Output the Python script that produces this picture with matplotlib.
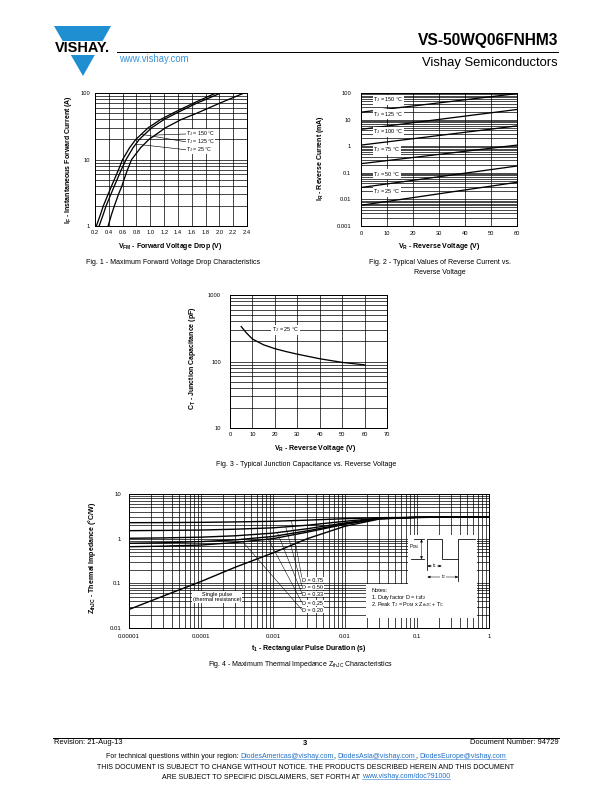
import numpy as np
import matplotlib
matplotlib.use("Agg")
import matplotlib.pyplot as plt
from matplotlib.lines import Line2D
from matplotlib.patches import Polygon, Rectangle, FancyArrowPatch
from matplotlib.ticker import LogLocator, NullFormatter

plt.rcParams['font.family'] = ['Liberation Sans', 'DejaVu Sans']
plt.rcParams['mathtext.fontset'] = 'custom'
plt.rcParams['mathtext.rm'] = 'Liberation Sans'
plt.rcParams['mathtext.bf'] = 'Liberation Sans:bold'
plt.rcParams['mathtext.default'] = 'regular'

W, H = 612, 792

# Fig. 1 - forward voltage drop
if_amps = [1, 1.5, 2, 3, 4, 5, 7, 10, 15, 20, 30, 40, 50, 70, 100]
vf_150 = [0.22, 0.28, 0.32, 0.39, 0.44, 0.48, 0.54, 0.60, 0.70, 0.79, 0.97, 1.15, 1.33, 1.62, 1.95]
vf_125 = [0.26, 0.32, 0.36, 0.43, 0.48, 0.52, 0.58, 0.65, 0.75, 0.84, 1.02, 1.20, 1.38, 1.67, 2.02]
vf_25 = [0.39, 0.44, 0.48, 0.54, 0.59, 0.62, 0.67, 0.73, 0.86, 0.98, 1.22, 1.45, 1.68, 2.00, 2.36]
fwd_labels = ["T$_J$ = 150 °C", "T$_J$ = 125 °C", "T$_J$ = 25 °C"]
fwd_label_if = [24.2, 18.4, 14.0]
fwd_leader_v = [1.07, 0.87, 0.79]
fig1_xticks = [0.2, 0.4, 0.6, 0.8, 1.0, 1.2, 1.4, 1.6, 1.8, 2.0, 2.2, 2.4]
fig1_yticks = [1, 10, 100]

# Fig. 2 - reverse current
vr_rev = [0, 60]
ir_150 = [19, 95]
ir_125 = [4.3, 24]
ir_100 = [1.1, 5.8]
ir_75 = [0.22, 1.1]
ir_50 = [0.028, 0.18]
ir_25 = [0.006, 0.044]
rev_labels = ["T$_J$ = 150 °C", "T$_J$ = 125 °C", "T$_J$ = 100 °C",
              "T$_J$ = 75 °C", "T$_J$ = 50 °C", "T$_J$ = 25 °C"]
rev_label_ir = [56, 16, 3.5, 0.72, 0.089, 0.019]
fig2_xticks = [0, 10, 20, 30, 40, 50, 60]
fig2_yticks = [0.001, 0.01, 0.1, 1, 10, 100]
fig2_ylabels = ["0.001", "0.01", "0.1", "1", "10", "100"]

# Fig. 3 - junction capacitance
vr_cap = [5, 7.5, 10, 15, 20, 25, 30, 40, 50, 60]
ct_pf = [335, 265, 218, 178, 156, 141, 129, 110, 97, 89]
fig3_xticks = [0, 10, 20, 30, 40, 50, 60, 70]
fig3_yticks = [10, 100, 1000]

# Fig. 4 - thermal impedance
t_pulse = [1e-5, 3e-5, 1e-4, 3e-4, 1e-3, 3e-3, 1e-2, 3e-2, 1e-1, 1]
zth_d75 = [2.28, 2.29, 2.32, 2.37, 2.45, 2.60, 2.80, 2.95, 3.00, 3.05]
zth_d50 = [1.51, 1.53, 1.56, 1.63, 1.75, 2.00, 2.45, 2.88, 3.00, 3.05]
zth_d33 = [1.02, 1.04, 1.08, 1.16, 1.33, 1.67, 2.25, 2.85, 3.00, 3.05]
zth_d25 = [0.79, 0.81, 0.86, 0.94, 1.12, 1.50, 2.15, 2.82, 3.00, 3.05]
zth_d20 = [0.66, 0.68, 0.72, 0.82, 1.00, 1.40, 2.10, 2.80, 3.00, 3.05]
zth_single = [0.026, 0.052, 0.11, 0.23, 0.48, 1.00, 1.90, 2.75, 3.00, 3.05]
duty_labels = ["D = 0.75", "D = 0.50", "D = 0.33", "D = 0.25", "D = 0.20"]
duty_label_z = [0.118, 0.082, 0.057, 0.036, 0.025]
duty_leader_t = [1.8e-3, 1.5e-3, 1.15e-3, 8.3e-4, 3.8e-4]
fig4_xticks = [1e-5, 1e-4, 1e-3, 1e-2, 1e-1, 1]
fig4_xlabels = ["0.00001", "0.0001", "0.001", "0.01", "0.1", "1"]
fig4_yticks = [0.01, 0.1, 1, 10]
fig4_ylabels = ["0.01", "0.1", "1", "10"]

logo_blue = '#1f8fd2'
link_blue = '#1f6fc8'


def px(x):
    return x / W


def py(y):
    return 1 - y / H


def rect(l, t, r, b):
    return [px(l), py(b), (r - l) / W, (b - t) / H]


def ftext(x, y, s, **kw):
    kw.setdefault('ha', 'center')
    kw.setdefault('va', 'center')
    return fig.text(px(x), py(y), s, **kw)


def fline(xs, ys, lw=0.8, color='black'):
    fig.add_artist(Line2D([px(x) for x in xs], [py(y) for y in ys], lw=lw, color=color))


def farrow(x0, y0, x1, y1):
    fig.add_artist(FancyArrowPatch((px(x0), py(y0)), (px(x1), py(y1)), transform=fig.transFigure,
                                   arrowstyle='<|-|>,head_length=0.45,head_width=0.2',
                                   mutation_scale=5, lw=0.5, color='black', shrinkA=0, shrinkB=0))


def chart(r, xlim, ylim, xticks, xlabels, yticks, ylabels, xlog=False, xpad=4, ypad=4, fs=5.8):
    ax = fig.add_axes(r)
    ax.set_yscale('log')
    if xlog:
        ax.set_xscale('log')
    ax.set_xlim(*xlim)
    ax.set_ylim(*ylim)
    ax.set_xticks(xticks, xlabels)
    ax.set_yticks(yticks, ylabels)
    ax.yaxis.set_minor_locator(LogLocator(base=10, subs=np.arange(2, 10), numticks=30))
    ax.yaxis.set_minor_formatter(NullFormatter())
    if xlog:
        ax.xaxis.set_minor_locator(LogLocator(base=10, subs=np.arange(2, 10), numticks=30))
        ax.xaxis.set_minor_formatter(NullFormatter())
    ax.grid(True, which='both', color='black', lw=0.7)
    ax.set_axisbelow(True)
    ax.tick_params(which='both', length=0, labelsize=fs)
    ax.tick_params(axis='x', pad=xpad)
    ax.tick_params(axis='y', pad=ypad)
    for s in ax.spines.values():
        s.set_linewidth(1.0)
    return ax


def mixed_line(y, parts, size, cx):
    r = fig.canvas.get_renderer()
    arts = [fig.text(0, py(y), s, fontsize=size, color=c, ha='left', va='baseline') for s, c in parts]
    widths = [t.get_window_extent(r).width for t in arts]
    x = cx - sum(widths) / 2
    for t, w, (s, c) in zip(arts, widths, parts):
        t.set_x(px(x))
        if c != 'black':
            fline([x, x + w], [y + 1.3, y + 1.3], lw=0.5, color=c)
        x += w


fig = plt.figure(figsize=(W / 72, H / 72), dpi=72)

# header
fig.add_artist(Polygon([(px(54), py(26)), (px(111), py(26)), (px(83), py(76))],
                       closed=True, transform=fig.transFigure, facecolor=logo_blue, edgecolor='none'))
fig.add_artist(Rectangle((px(50), py(55)), 64 / W, 14 / H, transform=fig.transFigure,
                         facecolor='white', edgecolor='none'))
ftext(82.5, 48, "VISHAY.", fontsize=14.5, fontweight='bold')
ftext(119, 59.5, "www.vishay.com", ha='left', fontsize=9.5, color='#3a93d8')
fline([117, 558], [51.5, 51.5], lw=1.0)
ftext(558, 40, "VS-50WQ06FNHM3", ha='right', fontsize=15.5, fontweight='bold')
ftext(558, 63, "Vishay Semiconductors", ha='right', fontsize=13)

# Fig. 1
ax1 = chart(rect(95, 93, 247, 226), (0.2, 2.4), (1, 100), fig1_xticks,
            ["%.1f" % v for v in fig1_xticks], fig1_yticks, ["1", "10", "100"], xpad=4, ypad=5)
fwd_curves = [vf_150, vf_125, vf_25]
for v in fwd_curves:
    ax1.plot(v, if_amps, color='black', lw=1.3)
leader_curve = [vf_25, vf_150, vf_125]
for lab, iy, lv, cv in zip(fwd_labels, fwd_label_if, fwd_leader_v, leader_curve):
    iend = 10 ** np.interp(lv, cv, np.log10(if_amps))
    ax1.annotate(lab, xy=(lv, iend), xytext=(1.52, iy), fontsize=5.3, ha='left', va='center',
                 bbox=dict(facecolor='white', edgecolor='none', pad=0.1),
                 arrowprops=dict(arrowstyle='-', lw=0.6, color='black', shrinkA=0, shrinkB=0,
                                 relpos=(0, 0.5)))
ftext(68, 160, "I$_F$ - Instantaneous Forward Current (A)", rotation=90, fontsize=7, fontweight='bold')
ftext(170, 247, "V$_{FM}$ - Forward Voltage Drop (V)", fontsize=7, fontweight='bold')
ftext(173, 263, "Fig. 1 - Maximum Forward Voltage Drop Characteristics", fontsize=7)

# Fig. 2
ax2 = chart(rect(361, 93, 517, 226), (0, 60), (0.001, 100), fig2_xticks,
            [str(v) for v in fig2_xticks], fig2_yticks, fig2_ylabels, xpad=5, ypad=10)
for ir in [ir_150, ir_125, ir_100, ir_75, ir_50, ir_25]:
    ax2.plot(vr_rev, ir, color='black', lw=1.3)
for lab, iy in zip(rev_labels, rev_label_ir):
    ax2.text(4.8, iy, lab, fontsize=5.5, ha='left', va='center',
             bbox=dict(facecolor='white', edgecolor='none', pad=0.6))
ftext(321, 158, "I$_R$ - Reverse Current (mA)", rotation=90, fontsize=7, fontweight='bold')
ftext(439, 246, "V$_R$ - Reverse Voltage (V)", fontsize=7, fontweight='bold')
ftext(440, 263, "Fig. 2 - Typical Values of Reverse Current vs.", fontsize=7)
ftext(440, 272, "Reverse Voltage", fontsize=7)

# Fig. 3
ax3 = chart(rect(230, 295, 387, 428), (0, 70), (10, 1000), fig3_xticks,
            [str(v) for v in fig3_xticks], fig3_yticks, ["10", "100", "1000"], xpad=4, ypad=9)
ax3.plot(vr_cap, ct_pf, color='black', lw=1.3)
ax3.text(18.7, 298, "T$_J$ = 25 °C", fontsize=5.5, ha='left', va='center',
         bbox=dict(facecolor='white', edgecolor='none', pad=0.6))
ftext(192.5, 358, "C$_T$ - Junction Capacitance (pF)", rotation=90, fontsize=7, fontweight='bold')
ftext(315, 448, "V$_R$ - Reverse Voltage (V)", fontsize=7, fontweight='bold')
ftext(306, 464, "Fig. 3 - Typical Junction Capacitance vs. Reverse Voltage", fontsize=7)

# Fig. 4
ax4 = chart(rect(129, 494, 489, 628), (1e-5, 1), (0.01, 10), fig4_xticks, fig4_xlabels,
            fig4_yticks, fig4_ylabels, xlog=True, xpad=6, ypad=8, fs=6)
duty_curves = [zth_d75, zth_d50, zth_d33, zth_d25, zth_d20]
for z in duty_curves + [zth_single]:
    ax4.plot(t_pulse, z, color='black', lw=1.4)
for lab, zy, tl, z in zip(duty_labels, duty_label_z, duty_leader_t, duty_curves):
    zend = 10 ** np.interp(np.log10(tl), np.log10(t_pulse), np.log10(z))
    ax4.annotate(lab, xy=(tl, zend), xytext=(2.55e-3, zy), fontsize=5.5, ha='left', va='center',
                 bbox=dict(facecolor='white', edgecolor='none', pad=0.5),
                 arrowprops=dict(arrowstyle='-', lw=0.5, color='black', shrinkA=0, shrinkB=0,
                                 relpos=(0, 0.5)))
ax4.text(1.66e-4, 0.05, "Single pulse\n(thermal resistance)", fontsize=5.5, ha='center', va='center',
         linespacing=1.1, bbox=dict(facecolor='white', edgecolor='none', pad=1.0))

# notes and pulse sketch
fig.add_artist(Rectangle((px(408), py(587)), 69 / W, 52 / H, transform=fig.transFigure,
                         facecolor='white', edgecolor='none'))
fig.add_artist(Rectangle((px(366), py(618)), 111 / W, 34 / H, transform=fig.transFigure,
                         facecolor='white', edgecolor='none'))
fline([414, 424], [539.3, 539.3])
fline([411, 424], [559.3, 559.3])
farrow(421.5, 539.3, 421.5, 559.3)
fline([427.3, 427.3, 441.7, 441.7, 458.3, 458.3, 475], [570, 539.3, 539.3, 559.3, 559.3, 539.3, 539.3])
fline([458.3, 458.3], [559.3, 581])
farrow(427.3, 566, 441.7, 566)
farrow(427.3, 577, 458.3, 577)
ftext(419, 547, "P$_{DM}$", ha='right', fontsize=4.5)
ftext(434.5, 565.5, "t$_1$", fontsize=4.5, bbox=dict(facecolor='white', edgecolor='none', pad=0.3))
ftext(443, 576.5, "t$_2$", fontsize=4.5, bbox=dict(facecolor='white', edgecolor='none', pad=0.3))
ftext(371, 590, "Notes:", ha='left', fontsize=5.5)
ftext(371, 597.5, "1. Duty factor D = t$_1$/t$_2$", ha='left', fontsize=5.5)
ftext(371, 605, "2. Peak T$_J$ = P$_{DM}$ x Z$_{thJC}$ + T$_C$", ha='left', fontsize=5.5)

ftext(92.5, 558, "Z$_{thJC}$ - Thermal Impedance (°C/W)", rotation=90, fontsize=7, fontweight='bold')
ftext(309, 649, "t$_1$ - Rectangular Pulse Duration (s)", fontsize=7, fontweight='bold')
ftext(300, 664, "Fig. 4 - Maximum Thermal Impedance Z$_{thJC}$ Characteristics", fontsize=7)

# footer
fline([53, 559], [737.5, 737.5], lw=1.0)
ftext(54, 743, "Revision: 21-Aug-13", ha='left', fontsize=7.5)
ftext(305, 743.5, "3", fontsize=7.5, fontweight='bold')
ftext(559, 743, "Document Number: 94729", ha='right', fontsize=7.5)
mixed_line(758, [("For technical questions within your region: ", 'black'),
                 ("DiodesAmericas@vishay.com", link_blue), (", ", 'black'),
                 ("DiodesAsia@vishay.com", link_blue), (", ", 'black'),
                 ("DiodesEurope@vishay.com", link_blue)], 7, 306)
mixed_line(769, [("THIS DOCUMENT IS SUBJECT TO CHANGE WITHOUT NOTICE. THE PRODUCTS DESCRIBED HEREIN AND THIS DOCUMENT",
                  'black')], 7, 306)
mixed_line(778, [("ARE SUBJECT TO SPECIFIC DISCLAIMERS, SET FORTH AT ", 'black'),
                 ("www.vishay.com/doc?91000", link_blue)], 7, 306)

fig.savefig("out.png", dpi=72)
